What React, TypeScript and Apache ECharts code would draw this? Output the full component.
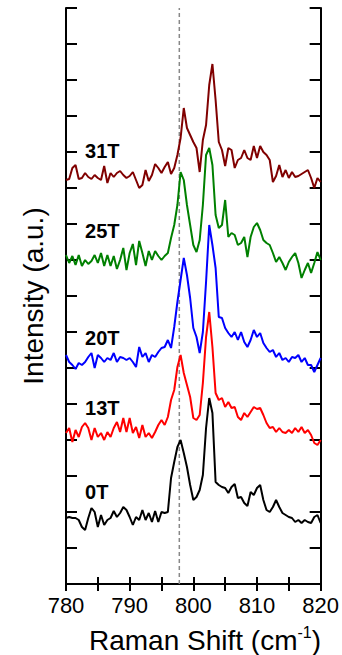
import { useEffect, useRef } from "react";
import * as echarts from "echarts";

// Raman shift sample positions (cm^-1)
const ramanShift = [
  780, 780.5, 781, 781.5, 782, 782.5, 783, 783.5, 784, 784.5, 785, 785.5, 786, 786.5, 787, 787.5,
  788, 788.5, 789, 789.5, 790, 790.5, 791, 791.5, 792, 792.5, 793, 793.5, 794, 794.5, 795, 795.5,
  796, 796.5, 797, 797.5, 798, 798.5, 799, 799.5, 800, 800.5, 801, 801.5, 802, 802.5, 803, 803.5,
  804, 804.5, 805, 805.5, 806, 806.5, 807, 807.5, 808, 808.5, 809, 809.5, 810, 810.5, 811, 811.5,
  812, 812.5, 813, 813.5, 814, 814.5, 815, 815.5, 816, 816.5, 817, 817.5, 818, 818.5, 819, 819.5, 820,
];

// Intensities (a.u., vertically offset as in the figure)
const int0T = [
  66, 67, 66, 66, 64, 57, 54, 66, 76, 72, 57, 69, 59, 64, 66, 73,
  67, 71, 77, 74, 67, 59, 67, 64, 74, 64, 71, 62, 73, 62, 72, 71,
  72, 106, 122, 137, 144, 131, 117, 99, 84, 87, 94, 109, 156, 186, 171, 102,
  99, 97, 96, 91, 97, 100, 86, 87, 81, 78, 92, 89, 96, 99, 84, 74,
  72, 77, 84, 77, 71, 69, 67, 66, 62, 64, 61, 64, 62, 61, 67, 69, 61,
];
const int13T = [
  151, 156, 142, 154, 147, 157, 161, 156, 144, 156, 147, 151, 144, 152, 147, 156,
  162, 152, 166, 152, 166, 151, 157, 146, 159, 147, 151, 146, 152, 159, 164, 159,
  167, 184, 194, 217, 229, 211, 199, 187, 166, 164, 169, 201, 247, 272, 237, 191,
  184, 186, 177, 182, 176, 177, 167, 164, 171, 167, 172, 177, 175, 176, 169, 161,
  156, 157, 152, 156, 152, 151, 154, 151, 156, 152, 157, 151, 154, 149, 141, 139, 144,
];
const int20T = [
  229, 222, 219, 215, 221, 219, 222, 227, 231, 216, 229, 226, 222, 226, 224, 231,
  222, 227, 226, 224, 226, 222, 217, 237, 227, 231, 222, 229, 227, 232, 236, 237,
  244, 236, 257, 282, 304, 326, 309, 286, 256, 247, 231, 252, 302, 359, 339, 316,
  267, 266, 256, 251, 247, 252, 244, 252, 242, 237, 244, 254, 247, 251, 241, 236,
  232, 234, 227, 231, 224, 226, 222, 227, 226, 229, 222, 226, 219, 219, 212, 219, 226,
];
const int25T = [
  329, 321, 328, 319, 329, 318, 324, 320, 323, 329, 321, 331, 318, 329, 318, 328,
  315, 324, 336, 314, 331, 340, 319, 343, 331, 318, 333, 324, 333, 328, 324, 328,
  331, 346, 359, 379, 412, 404, 379, 359, 339, 332, 344, 379, 429, 436, 419, 369,
  356, 359, 384, 347, 351, 349, 339, 341, 347, 327, 347, 357, 361, 354, 344, 341,
  339, 331, 322, 327, 321, 314, 322, 327, 331, 321, 306, 314, 321, 311, 321, 332, 324,
];
const int31T = [
  404, 405, 416, 419, 405, 406, 411, 407, 405, 409, 406, 404, 418, 401, 411, 407,
  411, 413, 409, 406, 408, 412, 404, 396, 399, 414, 403, 409, 420, 416, 411, 417,
  422, 410, 416, 429, 446, 476, 456, 449, 442, 436, 412, 444, 459, 499, 520, 484,
  442, 434, 418, 436, 434, 416, 424, 426, 434, 426, 424, 438, 426, 438, 432, 429,
  424, 402, 408, 419, 407, 414, 406, 412, 407, 408, 410, 412, 414, 406, 396, 406, 402,
];

const fieldLabels = ["0T", "13T", "20T", "25T", "31T"];
const fieldColors = ["#000000", "#ff0000", "#0000ff", "#008000", "#800000"];
const fieldData = [int0T, int13T, int20T, int25T, int31T];
// where each field label sits (data coordinates, label left edge / vertical centre)
const labelShift = 783;
const labelLevel = [92, 176, 246, 353, 433];

const dashedShift = 797.8;
const xMin = 780;
const xMax = 820;
const yMin = 0;
const yMax = 576;

const FONT = "Liberation Sans, Arial, Helvetica, sans-serif";

export default function App() {
  const ref = useRef<HTMLDivElement>(null);

  useEffect(() => {
    if (!ref.current) return;
    const chart = echarts.init(ref.current, undefined, { renderer: "svg" });

    const axisLineStyle = { color: "#000", width: 2 };
    const xAxisBase = {
      type: "value" as const,
      min: xMin,
      max: xMax,
      interval: 5,
      splitLine: { show: false },
      axisLine: { show: true, lineStyle: axisLineStyle },
      axisTick: { show: true, inside: true, length: 7, lineStyle: { color: "#000", width: 2 } },
    };
    const yAxisBase = {
      type: "value" as const,
      min: yMin,
      max: yMax,
      interval: 36,
      splitLine: { show: false },
      axisLabel: { show: false },
      axisLine: { show: true, lineStyle: axisLineStyle },
      axisTick: { show: true, inside: true, length: 11, lineStyle: { color: "#000", width: 2 } },
    };

    const series: any[] = [
      {
        type: "line",
        data: [
          [dashedShift, yMin],
          [dashedShift, yMax],
        ],
        showSymbol: false,
        silent: true,
        lineStyle: { color: "#888888", width: 1.5, type: [4, 3] },
        z: 1,
      },
    ];
    fieldData.forEach((vals, k) => {
      series.push({
        type: "line",
        name: fieldLabels[k],
        data: ramanShift.map((x, i) => [x, vals[i]]),
        showSymbol: false,
        lineStyle: { color: fieldColors[k], width: 2 },
        itemStyle: { color: fieldColors[k] },
        z: 2 + k,
      });
    });

    chart.setOption({
      animation: false,
      grid: { left: 66, right: 21, top: 8, bottom: 71, containLabel: false },
      xAxis: [
        {
          ...xAxisBase,
          position: "bottom",
          axisLabel: {
            show: true,
            fontSize: 22,
            color: "#000",
            fontFamily: FONT,
            margin: 10,
            formatter: (v: number) => (v % 10 === 0 ? String(v) : ""),
          },
        },
        { ...xAxisBase, position: "top", axisLabel: { show: false } },
      ],
      yAxis: [
        { ...yAxisBase, position: "left" },
        { ...yAxisBase, position: "right" },
      ],
      series,
    });

    const labelGraphics = fieldLabels.map((lab, k) => {
      const p = chart.convertToPixel({ xAxisIndex: 0, yAxisIndex: 0 }, [labelShift, labelLevel[k]]) as number[];
      return {
        type: "text",
        x: p[0],
        y: p[1],
        style: {
          text: lab,
          fontSize: 20,
          fontWeight: "bold",
          fontFamily: FONT,
          fill: "#000",
          align: "left",
          verticalAlign: "middle",
        },
        z: 10,
      };
    });

    chart.setOption({
      graphic: [
        ...labelGraphics,
        {
          type: "text",
          x: 33,
          y: 296,
          rotation: Math.PI / 2,
          style: {
            text: "Intensity (a.u.)",
            fontSize: 28,
            fontFamily: FONT,
            fill: "#000",
            align: "center",
            verticalAlign: "middle",
          },
        },
        {
          type: "text",
          x: 205,
          y: 640,
          style: {
            text: "{a|Raman Shift (cm}{s|-1}{a|)}",
            fontFamily: FONT,
            fill: "#000",
            align: "center",
            verticalAlign: "middle",
            rich: {
              a: { fontSize: 28, fontFamily: FONT, fill: "#000", lineHeight: 32 },
              s: { fontSize: 16, fontFamily: FONT, fill: "#000", verticalAlign: "top", lineHeight: 32 },
            },
          },
        },
      ],
    });

    return () => chart.dispose();
  }, []);

  return (
    <div
      ref={ref}
      style={{ position: "fixed", left: 0, top: 0, width: 342, height: 655, background: "#fff" }}
    />
  );
}
